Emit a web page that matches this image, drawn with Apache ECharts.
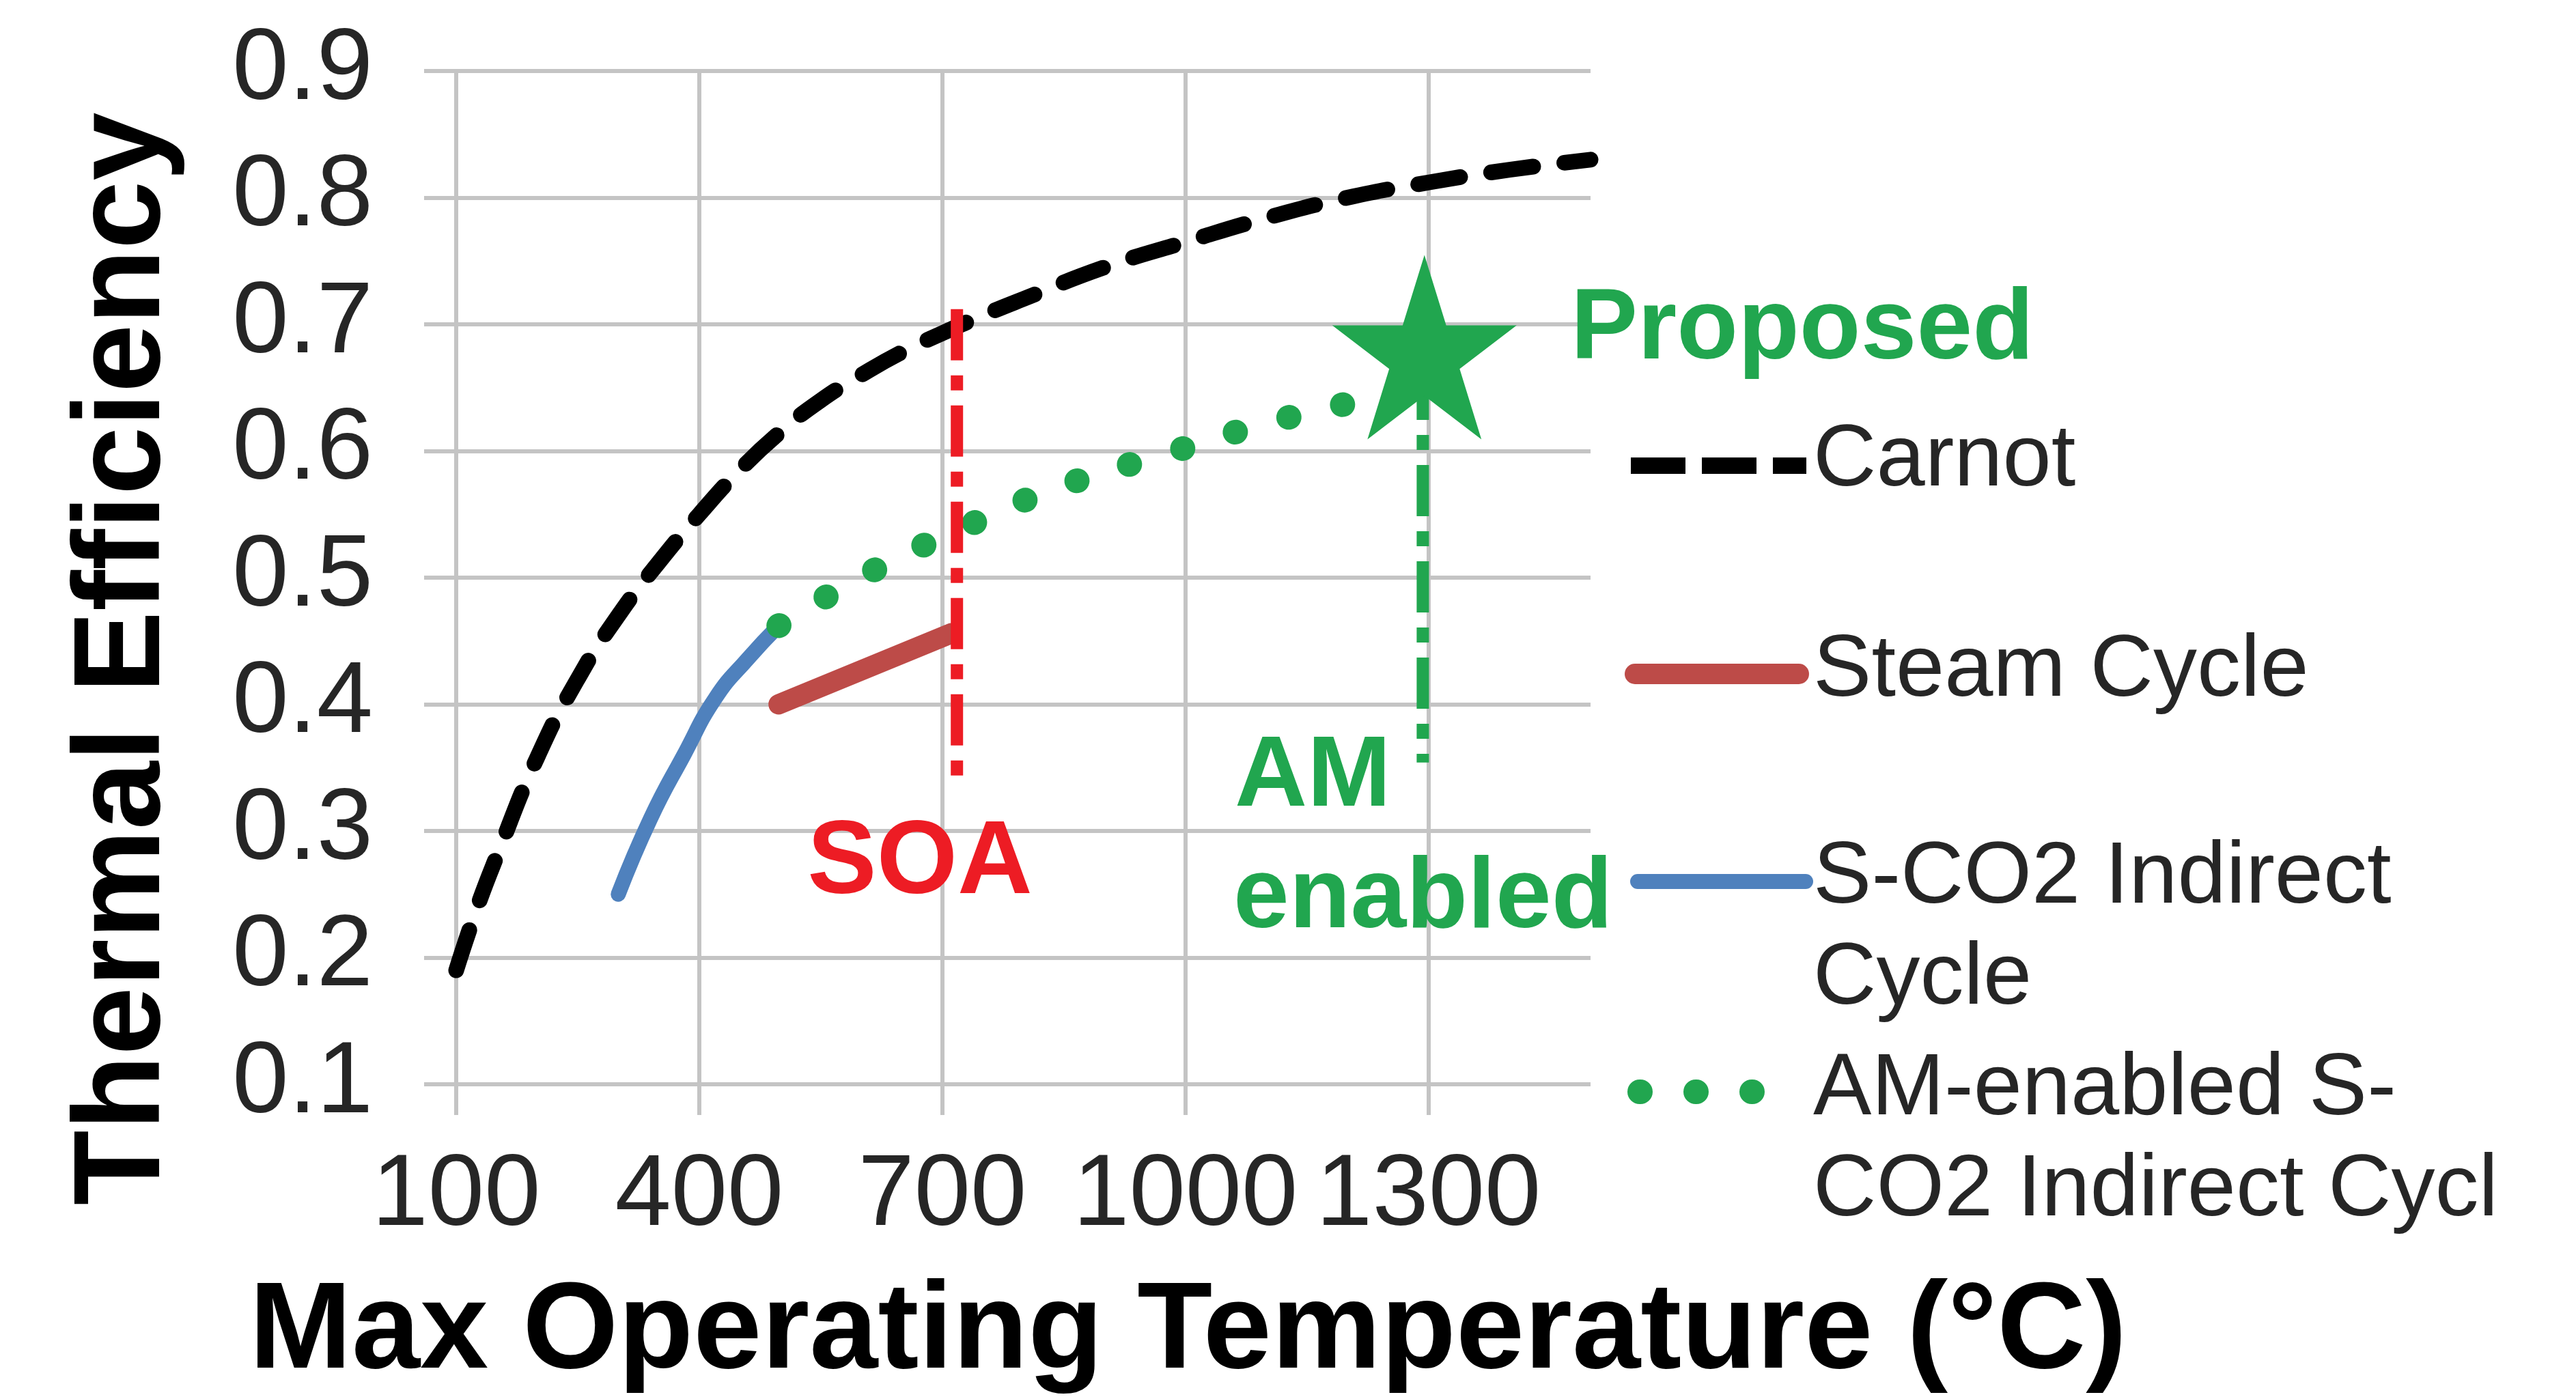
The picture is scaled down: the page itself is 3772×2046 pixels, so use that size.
<!DOCTYPE html>
<html>
<head>
<meta charset="utf-8">
<script src="https://cdn.jsdelivr.net/npm/echarts@6/dist/echarts.min.js"></script>
<style>
  html, body { margin: 0; padding: 0; background: #ffffff; }
  #chart { width: 3772px; height: 2046px; }
</style>
</head>
<body>
<div id="chart"></div>
<script>
// Tick positions on the temperature axis (°C)
const xTicks = [100, 400, 700, 1000, 1300];

// Carnot limit: [max temperature °C, efficiency]
const carnot = [
  [100, 0.19], [125, 0.238], [150, 0.28], [200, 0.358], [250, 0.42],
  [300, 0.47], [350, 0.512], [400, 0.55], [450, 0.585], [500, 0.615],
  [550, 0.64], [600, 0.66], [650, 0.678], [700, 0.693], [750, 0.707],
  [800, 0.72], [900, 0.745], [1000, 0.765], [1100, 0.784], [1200, 0.80],
  [1300, 0.812], [1400, 0.822], [1500, 0.83]
];

// Conventional steam cycle
const steamCycle = [[498, 0.40], [711, 0.456]];

// Supercritical CO2 indirect cycle
const sco2Cycle = [[300, 0.25], [340, 0.31], [381, 0.36], [420, 0.405], [460, 0.436], [498, 0.462]];

// Additively-manufactured S-CO2 indirect cycle
const amCycle = [
  [498, 0.462], [613, 0.505], [731, 0.541], [851, 0.573],
  [977, 0.598], [1101, 0.622], [1229, 0.642], [1290, 0.652]
];

// State-of-the-art temperature limit and AM-enabled limit
const soaLimit = [[718, 0.712], [718, 0.338]];
const amLimit = [[1293, 0.665], [1293, 0.354]];

// Proposed operating point
const proposed = [[1295, 0.682]];

const FONT = '"Liberation Sans", Arial, Helvetica, sans-serif';
const GRID_COLOR = '#c4c4c4';
const TEXT_COLOR = '#262626';
const C_BLACK = '#000000';
const C_STEAM = '#bd4b48';
const C_BLUE = '#4f81bd';
const C_GREEN = '#21a64f';
const C_RED = '#ed1c24';

const STAR = 'path://M0,-100L22.45,-30.9L95.1,-30.9L36.33,11.8L58.78,80.9L0,38.2L-58.78,80.9L-36.33,11.8L-95.1,-30.9L-22.45,-30.9Z';

const chart = echarts.init(document.getElementById('chart'), null, { renderer: 'canvas' });

function txt(text, x, y, size, color, bold, align, extra) {
  return Object.assign({
    type: 'text', x: x, y: y, z: 100,
    style: Object.assign({
      text: text,
      font: (bold ? 'bold ' : '') + size + 'px ' + FONT,
      fill: color,
      align: align || 'left', textAlign: align || 'left',
      verticalAlign: 'middle', textVerticalAlign: 'middle'
    }, (extra && extra.style) || {})
  }, (extra && extra.el) || {});
}

function legendLine(x1, x2, y, color, width, dash, cap) {
  return {
    type: 'line', z: 100,
    shape: { x1: x1, y1: y, x2: x2, y2: y },
    style: { stroke: color, lineWidth: width, lineDash: dash || null, lineCap: cap || 'round' }
  };
}

const option = {
  animation: false,
  backgroundColor: '#ffffff',
  grid: { left: 668, right: 1443, top: 104, bottom: 458, containLabel: false, outerBoundsMode: 'none' },
  xAxis: {
    type: 'value', min: 100, max: 1500, interval: 300,
    axisLine: { show: false },
    axisTick: { show: true, customValues: xTicks, length: 45, lineStyle: { color: GRID_COLOR, width: 6 } },
    axisLabel: { customValues: xTicks, margin: 91, fontSize: 148, fontFamily: FONT, color: TEXT_COLOR,
                 hideOverlap: false, showMinLabel: true, showMaxLabel: true,
                 formatter: function (v) { return String(v); } },
    splitLine: { show: true, lineStyle: { color: GRID_COLOR, width: 6 } }
  },
  yAxis: {
    type: 'value', min: 0.1, max: 0.9, interval: 0.1,
    axisLine: { show: false },
    axisTick: { show: true, length: 47, lineStyle: { color: GRID_COLOR, width: 6 } },
    axisLabel: { margin: 122, fontSize: 148, fontFamily: FONT, color: TEXT_COLOR, hideOverlap: false,
                 formatter: function (v) { return v.toFixed(1); } },
    splitLine: { show: true, lineStyle: { color: GRID_COLOR, width: 6 } }
  },
  series: [
    { name: 'Carnot', type: 'line', data: carnot, smooth: 0.5, showSymbol: false, symbol: 'none', z: 3,
      lineStyle: { color: C_BLACK, width: 23, type: [62, 46], cap: 'round' } },
    { name: 'S-CO2 Indirect Cycle', type: 'line', data: sco2Cycle, smooth: 0.5, showSymbol: false, symbol: 'none', z: 4,
      lineStyle: { color: C_BLUE, width: 22, cap: 'round' } },
    { name: 'Steam Cycle', type: 'line', data: steamCycle, showSymbol: false, symbol: 'none', z: 4,
      lineStyle: { color: C_STEAM, width: 30, cap: 'round' } },
    { name: 'AM-enabled S-CO2 Indirect Cycle', type: 'line', data: amCycle, smooth: 0.5, showSymbol: false, symbol: 'none', z: 5,
      lineStyle: { color: C_GREEN, width: 36, type: [1, 80], cap: 'round' } },
    { name: 'SOA', type: 'line', data: soaLimit, showSymbol: false, symbol: 'none', z: 6,
      lineStyle: { color: C_RED, width: 18, type: [75, 22, 22, 22], cap: 'butt' } },
    { name: 'AM enabled', type: 'line', data: amLimit, showSymbol: false, symbol: 'none', z: 6,
      lineStyle: { color: C_GREEN, width: 18, type: [75, 22, 22, 22], cap: 'butt' } },
    { name: 'Proposed', type: 'scatter', data: proposed, symbol: STAR, symbolSize: [270, 270], z: 7,
      itemStyle: { color: C_GREEN, opacity: 1 } }
  ],
  graphic: [
    // axis titles
    txt('Max Operating Temperature (°C)', 365, 1953, 180, '#000000', true, 'left'),
    txt('Thermal Efficiency', 183, 965, 180, '#000000', true, 'center', { el: { rotation: Math.PI / 2 } }),
    // annotations
    txt('SOA', 1347, 1266, 152, C_RED, true, 'center'),
    txt('AM', 1808, 1139, 147, C_GREEN, true, 'left'),
    txt('enabled', 1806, 1317, 147, C_GREEN, true, 'left'),
    txt('Proposed', 2300, 484, 147, C_GREEN, true, 'left'),
    // legend
    legendLine(2388, 2645, 682, C_BLACK, 24, [80, 24], 'butt'),
    txt('Carnot', 2655, 676, 128, TEXT_COLOR, false, 'left'),
    legendLine(2394, 2634, 987, C_STEAM, 30, null, 'round'),
    txt('Steam Cycle', 2655, 984, 128, TEXT_COLOR, false, 'left'),
    legendLine(2398, 2644, 1291, C_BLUE, 22, null, 'round'),
    txt('S-CO2 Indirect', 2655, 1287, 128, TEXT_COLOR, false, 'left'),
    txt('Cycle', 2655, 1435, 128, TEXT_COLOR, false, 'left'),
    legendLine(2401, 2566, 1599, C_GREEN, 36, [1, 81], 'round'),
    txt('AM-enabled S-', 2655, 1597, 128, TEXT_COLOR, false, 'left'),
    txt('CO2 Indirect Cycle', 2655, 1745, 128, TEXT_COLOR, false, 'left',
        { style: { width: 1050, overflow: 'truncate', ellipsis: '' } })
  ]
};

chart.setOption(option);
</script>
</body>
</html>
